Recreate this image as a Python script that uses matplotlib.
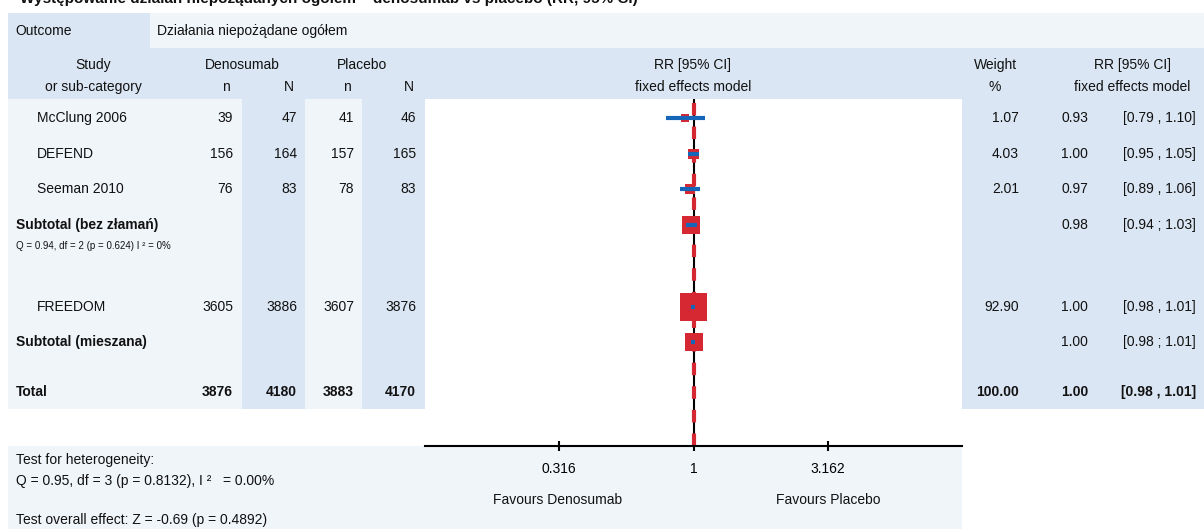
import numpy as np
import matplotlib
matplotlib.use('Agg')
from matplotlib import pyplot as plt
from matplotlib.patches import Rectangle

plt.rcParams['font.family'] = ['Liberation Sans', 'DejaVu Sans']
plt.rcParams['lines.scale_dashes'] = False

# data
studies = ['McClung 2006', 'DEFEND', 'Seeman 2010', 'FREEDOM']
den_n = [39, 156, 76, 3605]
den_N = [47, 164, 83, 3886]
pla_n = [41, 157, 78, 3607]
pla_N = [46, 165, 83, 3876]
weights = [1.07, 4.03, 2.01, 92.90]
rr = [0.93, 1.00, 0.97, 1.00]
rr_lo = [0.79, 0.95, 0.89, 0.98]
rr_hi = [1.10, 1.05, 1.06, 1.01]

sub_labels = ['Subtotal (bez złamań)', 'Subtotal (mieszana)']
sub_rr = [0.98, 1.00]
sub_lo = [0.94, 0.98]
sub_hi = [1.03, 1.01]
sub_note = 'Q = 0.94, df = 2 (p = 0.624) I ² = 0%'

tot_counts = [3876, 4180, 3883, 4170]
tot_weight = 100.00
tot_rr, tot_lo, tot_hi = 1.00, 0.98, 1.01

xticks = [0.316, 1, 3.162]
xtick_labels = ['0.316', '1', '3.162']

# layout (pixels)
W, H = 1204, 529
study_y = [118, 154, 189, 307]
sub_y = [225, 342]
tot_y = 392
dark = '#dae6f3'
light = '#f0f5fa'
red = '#d62832'
blue = '#1565b8'

fig = plt.figure(figsize=(W / 100, H / 100), dpi=100)
bg = fig.add_axes([0, 0, 1, 1])
bg.set_xlim(0, W)
bg.set_ylim(H, 0)
bg.axis('off')

def box(x0, y0, x1, y1, c):
    bg.add_patch(Rectangle((x0, y0), x1 - x0, y1 - y0, color=c, lw=0, zorder=0))

# backgrounds
box(8, 13, 150, 48, dark)
box(150, 13, W, 48, light)
box(8, 48, W, 99, dark)
box(8, 99, 242, 409, light)
box(242, 99, 305, 409, dark)
box(305, 99, 362, 409, light)
box(362, 99, 425, 409, dark)
box(962, 99, W, 409, dark)
box(8, 446, 962, H, light)

fs = 10
def t(x, y, s, ha='left', bold=False, size=fs):
    bg.text(x, y, s, ha=ha, va='center', fontsize=size,
            fontweight='bold' if bold else 'normal', color='#111111')

# title, cut off by the top edge as in the source image
bg.text(20, 3, 'Występowanie działań niepożądanych ogółem – denosumab vs placebo (RR, 95% CI)',
        ha='left', va='baseline', fontsize=11, fontweight='bold', color='#111111')

t(15, 31, 'Outcome')
t(157, 31, 'Działania niepożądane ogółem')

# header
t(93, 65, 'Study', 'center')
t(93, 87, 'or sub-category', 'center')
t(242, 65, 'Denosumab', 'center')
t(362, 65, 'Placebo', 'center')
for x, s in zip([226, 289, 347, 409], ['n', 'N', 'n', 'N']):
    t(x, 87, s, 'center')
t(693, 65, 'RR [95% CI]', 'center')
t(693, 87, 'fixed effects model', 'center')
t(995, 65, 'Weight', 'center')
t(995, 87, '%', 'center')
t(1132, 65, 'RR [95% CI]', 'center')
t(1132, 87, 'fixed effects model', 'center')

col_x = [233, 297, 354, 416]
for i, name in enumerate(studies):
    y = study_y[i]
    t(37, y, name)
    for x, v in zip(col_x, [den_n[i], den_N[i], pla_n[i], pla_N[i]]):
        t(x, y, str(v), 'right')
    t(1019, y, f'{weights[i]:.2f}', 'right')
    t(1088, y, f'{rr[i]:.2f}', 'right')
    t(1196, y, f'[{rr_lo[i]:.2f} , {rr_hi[i]:.2f}]', 'right')

for i, lab in enumerate(sub_labels):
    y = sub_y[i]
    t(16, y, lab, bold=True)
    t(1088, y, f'{sub_rr[i]:.2f}', 'right')
    t(1196, y, f'[{sub_lo[i]:.2f} ; {sub_hi[i]:.2f}]', 'right')
t(16, 246, sub_note, size=7)

t(16, tot_y, 'Total', bold=True)
for x, v in zip(col_x, tot_counts):
    t(x, tot_y, str(v), 'right', bold=True)
t(1019, tot_y, f'{tot_weight:.2f}', 'right', bold=True)
t(1088, tot_y, f'{tot_rr:.2f}', 'right', bold=True)
t(1196, tot_y, f'[{tot_lo:.2f} , {tot_hi:.2f}]', 'right', bold=True)

# bottom notes
t(16, 460, 'Test for heterogeneity:')
t(16, 481, 'Q = 0.95, df = 3 (p = 0.8132), I ²   = 0.00%')
t(16, 520, 'Test overall effect: Z = -0.69 (p = 0.4892)')
t(558, 500, 'Favours Denosumab', 'center')
t(828, 500, 'Favours Placebo', 'center')

# forest plot axes
x0, x1, y0, y1 = 425, 962, 99, 446
ax = fig.add_axes([x0 / W, 1 - y1 / H, (x1 - x0) / W, (y1 - y0) / H])
ax.set_xscale('log')
ax.set_xlim(0.1, 10)
ax.set_ylim(y1, y0)
ax.patch.set_alpha(0)
for s in ['top', 'left', 'right']:
    ax.spines[s].set_visible(False)
ax.spines['bottom'].set_linewidth(1.5)
ax.set_yticks([])
ax.set_xticks(xticks)
ax.set_xticklabels(xtick_labels, fontsize=fs)
ax.minorticks_off()
ax.tick_params(axis='x', direction='inout', length=7, width=1.5, pad=8)

ax.axvline(1, color='black', lw=1.5, zorder=1)
ax.axvline(tot_rr, color=red, lw=3, dashes=(9, 8), zorder=2)

px = 0.72  # points per pixel
sizes = [(6 + 2.2 * np.sqrt(w)) * px for w in weights]
ax.scatter(rr, study_y, marker='s', s=np.array(sizes) ** 2, color=red, lw=0, zorder=3)
ax.hlines(study_y, rr_lo, rr_hi, color=blue, lw=3, zorder=4)
ax.scatter(sub_rr, sub_y, marker='s', s=(18 * px) ** 2, color=red, lw=0, zorder=3)
ax.hlines(sub_y, sub_lo, sub_hi, color=blue, lw=3, zorder=4)

fig.savefig('out.png', dpi=100)
